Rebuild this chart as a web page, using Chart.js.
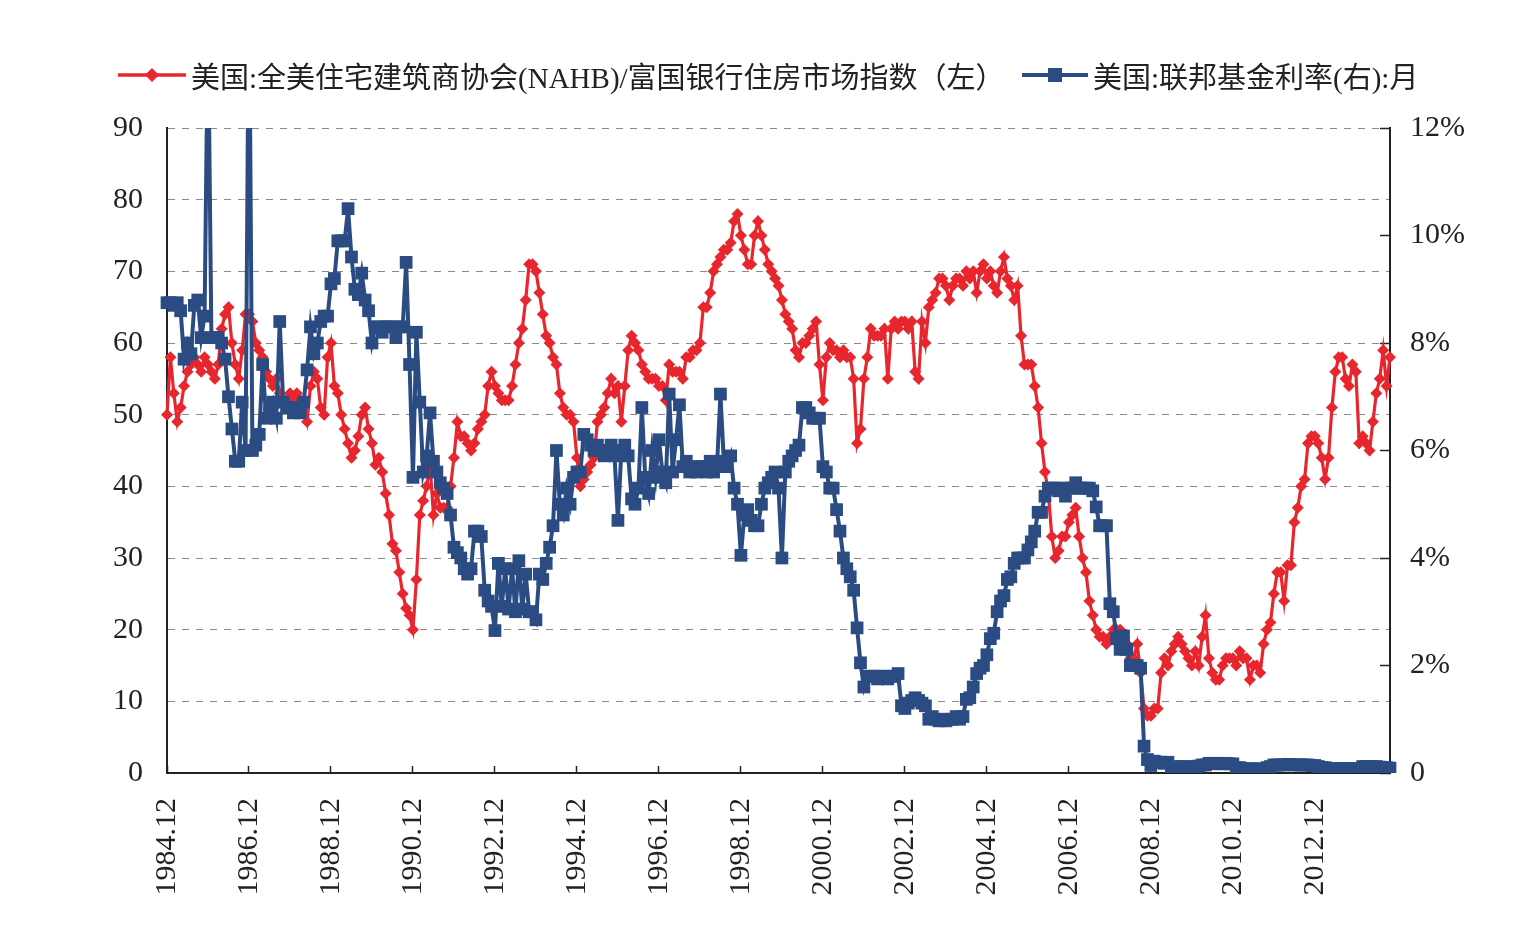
<!DOCTYPE html>
<html lang="zh-CN">
<head>
<meta charset="UTF-8">
<title>NAHB住房市场指数与联邦基金利率</title>
<script src="https://cdn.jsdelivr.net/npm/chart.js"></script>
<style>
  html, body { margin: 0; padding: 0; background: #fff; }
  #wrap { position: relative; width: 1517px; height: 931px; }
  #legend { position: absolute; top: 58px; left: 0; width: 1517px; height: 34px;
            font-family: "Liberation Serif", "Noto Sans CJK SC", serif; font-size: 29px; color: #222; }
  .item { position: absolute; top: 0; height: 34px; display: flex; align-items: center; white-space: nowrap; }
  .item svg { margin-right: 5px; }
</style>
</head>
<body>
<div id="wrap">
  <canvas id="chart" width="1517" height="931"></canvas>
  <div id="legend"></div>
</div>
<script>
// 月度数据，从 1984.12 起
const startYear = 1984;
const startMonth = 12;

const legendNames = [
  '美国:全美住宅建筑商协会(NAHB)/富国银行住房市场指数（左）',
  '美国:联邦基金利率(右):月'
];

// NAHB/富国银行住房市场指数（左轴）
const nahbIndex = [
  50, 58, 53, 49, 51, 54, 56, 57, 58, 57, 56, 58,
  57, 56, 55, 57, 62, 64, 65, 60, 57, 55, 59, 64,
  64, 63, 60, 59, 58, 56, 55, 54, 55, 53, 52, 52,
  53, 52, 53, 52, 51, 49, 54, 56, 55, 51, 50, 58,
  60, 54, 53, 50, 48, 46, 44, 45, 47, 50, 51, 48,
  46, 43, 44, 42, 39, 36, 32, 31, 28, 25, 23, 22,
  20, 27, 36, 38, 40, 43, 36, 39, 37, 37, 37, 40,
  44, 49, 47, 47, 46, 45, 46, 48, 49, 50, 54, 56,
  54, 53, 52, 52, 52, 54, 57, 60, 62, 66, 71, 71,
  70, 67, 64, 61, 60, 58, 57, 53, 51, 50, 50, 49,
  44, 40, 41, 42, 43, 44, 49, 50, 51, 53, 55, 53,
  54, 49, 54, 59, 61, 60, 59, 57, 56, 55, 55, 55,
  54, 54, 52, 57, 56, 56, 56, 55, 58, 58, 59, 59,
  60, 65, 65, 67, 70, 71, 72, 73, 73, 74, 77, 78,
  75, 73, 71, 71, 75, 77, 75, 73, 71, 70, 69, 68,
  66, 64, 63, 62, 59, 58, 60, 60, 61, 62, 63, 57,
  52, 58, 60, 59, 59, 58, 59, 58, 58, 55, 46, 48,
  55, 58, 62, 61, 61, 61, 62, 55, 62, 63, 62, 63,
  63, 62, 63, 56, 55, 63, 60, 65, 66, 67, 69, 69,
  68, 66, 68, 69, 69, 68, 70, 69, 70, 67, 70, 71,
  69, 70, 68, 67, 70, 72, 69, 68, 66, 68, 61, 57,
  57, 57, 54, 51, 46, 42, 39, 33, 30, 31, 33, 33,
  35, 36, 37, 33, 30, 28, 24, 22, 20, 19, 19, 18,
  19, 20, 20, 20, 19, 18, 16, 16, 18, 14, 9, 8,
  8, 9, 9, 14, 16, 15, 17, 18, 19, 18, 17, 16,
  15, 17, 15, 19, 22, 16, 14, 13, 13, 15, 16, 16,
  16, 15, 17, 16, 16, 13, 15, 15, 14, 18, 20, 21,
  25, 28, 28, 24, 29, 29, 35, 37, 40, 41, 46, 47,
  47, 46, 44, 41, 44, 51, 56, 58, 58, 55, 54, 57,
  56, 46, 47, 46, 45, 49, 53, 55, 59, 54, 58
];

// 联邦基金利率 %（右轴）
const fedFundsRate = [
  8.75, 8.75, 8.7, 8.75, 8.6, 7.7, 8.0, 7.8, 8.7, 8.8, 8.1, 8.5,
  14, 8.1, 8.1, 8.1, 8.0, 7.7, 7.0, 6.4, 5.8, 5.8, 6.9, 6.0,
  15, 6.0, 6.1, 6.3, 7.6, 6.6, 6.7, 6.9, 6.6, 8.4, 6.9, 6.8,
  6.8, 6.7, 6.8, 6.7, 6.9, 7.5, 8.3, 7.8, 8.0, 8.4, 8.5, 8.5,
  9.1, 9.2, 9.9, 9.9, 9.9, 10.5, 9.6, 9.0, 8.9, 9.3, 8.8, 8.6,
  8.0, 8.3, 8.3, 8.2, 8.3, 8.3, 8.3, 8.1, 8.3, 8.3, 9.5, 7.6,
  5.5, 8.2, 6.9, 5.6, 5.9, 6.7, 5.8, 5.6, 5.4, 5.3, 5.2, 4.8,
  4.2, 4.1, 4.0, 3.8, 3.7, 3.8, 4.5, 4.5, 4.4, 3.4, 3.2, 3.1,
  2.65, 3.9, 3.1, 3.8, 3.05, 3.8, 3.0, 3.95, 3.05, 3.7, 3.0, 3.0,
  2.85, 3.7, 3.6, 3.9, 4.2, 4.6, 6.0, 5.0, 4.8, 5.3, 5.0, 5.5,
  5.6, 5.6, 6.3, 6.2, 6.1, 6.0, 6.1, 6.0, 5.9, 6.0, 6.1, 5.9,
  4.7, 6.0, 6.1, 5.9, 5.1, 5.0, 5.3, 6.8, 5.5, 5.2, 6.0, 5.5,
  6.2, 5.6, 5.4, 7.05, 5.6, 6.2, 6.85, 5.7, 5.8, 5.6, 5.7, 5.6,
  5.7, 5.7, 5.6, 5.8, 5.6, 5.7, 7.05, 5.8, 5.7, 5.9, 5.3, 5.0,
  4.05, 4.8, 4.9, 4.7, 4.6, 4.6, 5.0, 5.3, 5.4, 5.5, 5.6, 5.3,
  4.0, 5.6, 5.8, 5.9, 6.0, 6.1, 6.8, 6.8, 6.7, 6.6, 6.6, 6.6,
  5.7, 5.6, 5.3, 5.3, 4.9, 4.5, 4.0, 3.8, 3.65, 3.4, 2.7, 2.05,
  1.6, 1.8, 1.8, 1.8, 1.75, 1.8, 1.8, 1.75, 1.8, 1.8, 1.85, 1.25,
  1.2, 1.3, 1.35, 1.4, 1.35, 1.3, 1.25, 1.0, 1.05, 1.0, 0.97, 1.0,
  0.97, 1.0, 1.0, 1.05, 1.0, 1.05, 1.37, 1.4, 1.6, 1.85, 1.95, 2.0,
  2.2, 2.5, 2.6, 3.0, 3.2, 3.3, 3.6, 3.65, 3.9, 4.0, 4.0, 4.0,
  4.15, 4.3, 4.5, 4.85, 4.85, 5.15, 5.3, 5.3, 5.3, 5.25, 5.3, 5.15,
  5.3, 5.3, 5.4, 5.3, 5.3, 5.3, 5.3, 5.25, 4.95, 4.6, 4.6, 4.6,
  3.15, 3.0, 2.5, 2.3, 2.55, 2.3, 2.0, 2.0, 2.0, 1.95, 0.5, 0.25,
  0.14, 0.22, 0.2, 0.2, 0.18, 0.2, 0.1, 0.1, 0.12, 0.12, 0.1, 0.1,
  0.12, 0.12, 0.13, 0.15, 0.15, 0.18, 0.18, 0.18, 0.17, 0.18, 0.18, 0.17,
  0.17, 0.1, 0.1, 0.08, 0.08, 0.08, 0.07, 0.07, 0.08, 0.07, 0.1, 0.12,
  0.15, 0.15, 0.15, 0.15, 0.16, 0.16, 0.15, 0.15, 0.15, 0.15, 0.15, 0.14,
  0.14, 0.12, 0.1, 0.1, 0.08, 0.08, 0.08, 0.08, 0.08, 0.08, 0.08, 0.08,
  0.08, 0.08, 0.12, 0.12, 0.12, 0.12, 0.12, 0.11, 0.1, 0.1, 0.09
];

// 横轴刻度（每两年一个）
const xTickLabels = ['1984.12', '1986.12', '1988.12', '1990.12', '1992.12', '1994.12', '1996.12',
  '1998.12', '2000.12', '2002.12', '2004.12', '2006.12', '2008.12', '2010.12', '2012.12'];

const RED = '#e8262d';
const BLUE = '#2b4c82';
const INK = '#222';

// 生成月份类别
const months = [];
for (let i = 0; i < nahbIndex.length; i++) {
  const k = startMonth - 1 + i;
  months.push((startYear + Math.floor(k / 12)) + '.' + (k % 12 + 1));
}

// 图例（HTML）
const legendIcons = [
  `<svg width="68" height="20"><line x1="0" y1="10" x2="68" y2="10" stroke="${RED}" stroke-width="3.5"/><polygon points="34,3 41,10 34,17 27,10" fill="${RED}"/></svg>`,
  `<svg width="66" height="20"><line x1="0" y1="10" x2="66" y2="10" stroke="${BLUE}" stroke-width="4"/><rect x="26" y="3" width="14" height="14" fill="${BLUE}"/></svg>`
];
const legendLeft = [118, 1022];
const legendEl = document.getElementById('legend');
legendNames.forEach((name, i) => {
  const item = document.createElement('div');
  item.className = 'item';
  item.style.left = legendLeft[i] + 'px';
  item.innerHTML = legendIcons[i] + '<span></span>';
  item.querySelector('span').textContent = name;
  legendEl.appendChild(item);
});

const tickFont = { family: '"Liberation Serif", "Times New Roman", serif', size: 30 };

new Chart(document.getElementById('chart'), {
  type: 'line',
  data: {
    labels: months,
    datasets: [
      {
        label: legendNames[0],
        data: nahbIndex,
        yAxisID: 'yLeft',
        borderColor: RED,
        backgroundColor: RED,
        borderWidth: 3.2,
        pointStyle: 'rectRot',
        pointRadius: 6,
        pointBorderWidth: 0,
        order: 1
      },
      {
        label: legendNames[1],
        data: fedFundsRate,
        yAxisID: 'yRight',
        borderColor: BLUE,
        backgroundColor: BLUE,
        borderWidth: 4,
        pointStyle: 'rect',
        pointRadius: 9,
        pointBorderWidth: 0,
        order: 0
      }
    ]
  },
  options: {
    responsive: false,
    animation: false,
    layout: { padding: { top: 128, left: 0, right: 0, bottom: 0 } },
    plugins: { legend: { display: false }, tooltip: { enabled: false } },
    scales: {
      x: {
        offset: false,
        grid: {
          drawOnChartArea: false,
          drawTicks: true,
          tickLength: -7,
          tickWidth: 1.5,
          tickColor: c => xTickLabels.includes(months[c.index]) ? INK : 'rgba(0,0,0,0)'
        },
        border: { color: INK, width: 2 },
        ticks: {
          autoSkip: false,
          minRotation: 90,
          maxRotation: 90,
          padding: 32,
          color: INK,
          font: tickFont,
          callback: (v, i) => xTickLabels.includes(months[i]) ? months[i] : ''
        },
        afterFit: s => { s.height = 158; }
      },
      yLeft: {
        position: 'left',
        min: 0,
        max: 90,
        ticks: { stepSize: 10, padding: 24, color: INK, font: tickFont },
        grid: { color: '#8a8a8a', lineWidth: 1, drawTicks: false },
        border: { color: INK, width: 2, dash: [7, 7] },
        afterFit: s => { s.width = 167; }
      },
      yRight: {
        position: 'right',
        min: 0,
        max: 12,
        ticks: {
          stepSize: 2,
          padding: 30,
          color: INK,
          font: tickFont,
          callback: v => v === 0 ? '0' : v + '%'
        },
        grid: { drawOnChartArea: false, drawTicks: true, tickLength: -10, tickColor: INK, tickWidth: 1.5 },
        border: { color: INK, width: 2 },
        afterFit: s => { s.width = 127; }
      }
    }
  }
});
</script>
</body>
</html>
